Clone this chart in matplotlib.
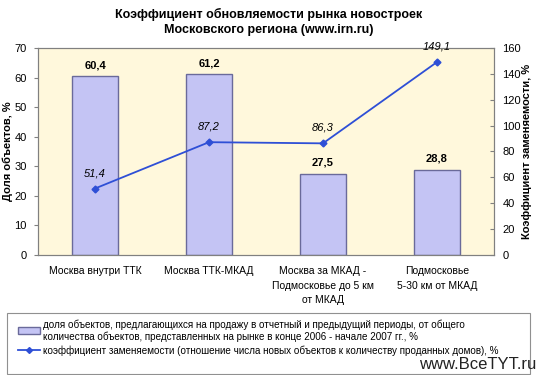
import matplotlib
matplotlib.use("Agg")
import matplotlib.pyplot as plt
import numpy as np
from matplotlib.patches import Patch, Rectangle
from matplotlib.lines import Line2D

categories = ["Москва внутри ТТК", "Москва ТТК-МКАД",
              "Москва за МКАД -\nПодмосковье до 5 км\nот МКАД",
              "Подмосковье\n5-30 км от МКАД"]
share = [60.4, 61.2, 27.5, 28.8]
coef = [51.4, 87.2, 86.3, 149.1]
left_ticks = [0, 10, 20, 30, 40, 50, 60, 70]
right_ticks = [0, 20, 40, 60, 80, 100, 120, 140, 160]

def fmt(v):
    return f"{v:.1f}".replace(".", ",")

plt.rcParams['font.family'] = ['Liberation Sans', 'DejaVu Sans']

fig = plt.figure(figsize=(5.37, 3.75), dpi=100)
ax = fig.add_axes([0.0708, 0.32, 0.849, 0.552])
ax.set_facecolor("#FFF8DC")
x = np.arange(len(categories))
ax.bar(x, share, width=0.41, color="#C4C4F4", edgecolor="#6A6A9A", linewidth=1.0, zorder=2)
ax.set_xlim(-0.5, 3.5)
ax.set_ylim(0, 70)
ax.set_yticks(left_ticks)
ax.set_xticks(x)
ax.set_xticklabels(categories, fontsize=7.5, linespacing=1.55)
ax.tick_params(axis='x', length=0, pad=8)
ax.tick_params(axis='y', labelsize=8, length=3, direction='out', pad=5, color="#808080")
ax.set_ylabel("Доля объектов, %", fontsize=8, fontweight='bold')
ax.yaxis.set_label_coords(-0.054, 0.5)
for s in ax.spines.values():
    s.set_color("#808080")
    s.set_linewidth(0.8)
for xi, v in zip(x, share):
    ax.text(xi, v + 2.0, fmt(v), ha='center', va='bottom', fontsize=8, fontweight='bold')

ax2 = ax.twinx()
ax2.plot(x, coef, color="#2E4FD6", linewidth=1.3, marker='D', markersize=3.5, zorder=3)
ax2.set_ylim(0, 160)
ax2.set_yticks(right_ticks)
ax2.tick_params(axis='y', labelsize=8, length=3, direction='in', pad=6, color="#808080")
ax2.set_ylabel("Коэффициент заменяемости, %", fontsize=8, fontweight='bold')
ax2.yaxis.set_label_coords(1.062, 0.5)
for s in ax2.spines.values():
    s.set_color("#808080")
    s.set_linewidth(0.8)
for xi, v in zip(x, coef):
    ax2.text(xi, v + 8, fmt(v), ha='center', va='bottom', fontsize=8, fontstyle='italic')

fig.text(0.5, 0.978, "Коэффициент обновляемости рынка новостроек\nМосковского региона (www.irn.ru)",
         ha='center', va='top', fontsize=9, fontweight='bold', linespacing=1.3)

# legend frame
fig.patches.append(Rectangle((7 / 537, 1 / 375), 523 / 537, 61 / 375, transform=fig.transFigure,
                             facecolor='white', edgecolor="#909090", linewidth=0.8, zorder=0))
handles = [Patch(facecolor="#C4C4F4", edgecolor="#6A6A9A"),
           Line2D([0], [0], color="#2E4FD6", marker='D', markersize=3, linewidth=1.3)]
labels = ["доля объектов, предлагающихся на продажу в отчетный и предыдущий периоды, от общего\nколичества объектов, представленных на рынке в конце 2006 - начале 2007 гг., %",
          "коэффициент заменяемости (отношение числа новых объектов к количеству проданных домов), %"]
leg = fig.legend(handles, labels, loc='upper left', bbox_to_anchor=(0.028, 0.157), fontsize=7.1,
                 frameon=False, handlelength=2.2, handletextpad=0.3, borderpad=0.3,
                 labelspacing=0.35, borderaxespad=0)

fig.text(0.998, 0.008, "www.BceTYT.ru", ha='right', va='bottom', fontsize=12, color="#222222",
         zorder=5)

fig.savefig("out.png", dpi=100)
